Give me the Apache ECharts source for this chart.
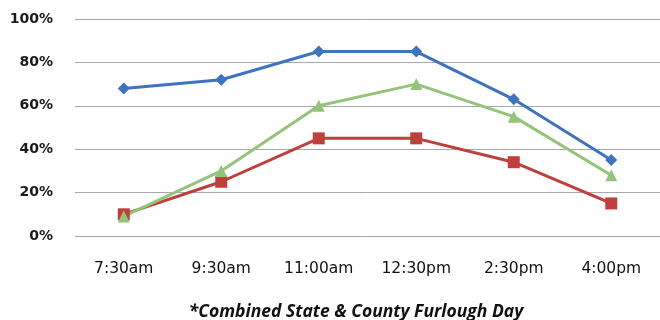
<!DOCTYPE html>
<html>
<head>
<meta charset="utf-8">
<script src="https://cdn.jsdelivr.net/npm/echarts@6/dist/echarts.min.js"></script>
<style>
  html, body { margin: 0; padding: 0; background: #ffffff; }
  #chart { width: 660px; height: 320px; }
</style>
</head>
<body>
<div id="chart"></div>
<script>
// Time slots along the x axis
const times = ['7:30am', '9:30am', '11:00am', '12:30pm', '2:30pm', '4:00pm'];

// Share of capacity per time slot (percent)
const blueSeries = [68, 72, 85, 85, 63, 35];
const redSeries = [10, 25, 45, 45, 34, 15];
const greenSeries = [9, 30, 60, 70, 55, 28];

// Y axis ticks
const yTicks = [0, 20, 40, 60, 80, 100];

const footnote = '*Combined State & County Furlough Day';

const chart = echarts.init(document.getElementById('chart'), null, { renderer: 'canvas' });

function lineSeries(name, data, color, symbol, size) {
  return {
    name: name,
    type: 'line',
    data: data,
    symbol: symbol,
    symbolSize: size,
    lineStyle: { color: color, width: 3 },
    itemStyle: { color: color },
    emphasis: { disabled: true },
    animation: false
  };
}

chart.setOption({
  backgroundColor: '#ffffff',
  animation: false,
  title: {
    text: footnote,
    left: 351,
    top: 298,
    textAlign: 'center',
    textStyle: {
      fontFamily: 'Open Sans',
      fontStyle: 'italic',
      fontWeight: 'bold',
      fontSize: 17.5,
      color: '#111111'
    }
  },
  grid: { left: 75, top: 19, width: 594, height: 217 },
  xAxis: {
    type: 'category',
    data: times,
    boundaryGap: true,
    axisLine: { show: false },
    axisTick: { show: false },
    axisLabel: {
      margin: 25,
      fontFamily: 'DejaVu Sans',
      fontSize: 15.5,
      color: '#111111'
    },
    splitLine: { show: false }
  },
  yAxis: {
    type: 'value',
    min: yTicks[0],
    max: yTicks[yTicks.length - 1],
    interval: 20,
    axisLine: { show: false },
    axisTick: { show: false },
    axisLabel: {
      margin: 22,
      fontFamily: 'DejaVu Sans',
      fontWeight: 'bold',
      fontSize: 14,
      color: '#1a1a1a',
      formatter: v => v + '%'
    },
    splitLine: { lineStyle: { color: '#a8a8a8', width: 1 } }
  },
  series: [
    lineSeries('blue', blueSeries, '#3f73bd', 'diamond', 12),
    lineSeries('red', redSeries, '#be3f3b', 'rect', 12),
    lineSeries('green', greenSeries, '#93c47a', 'triangle', 12)
  ]
});
</script>
</body>
</html>
